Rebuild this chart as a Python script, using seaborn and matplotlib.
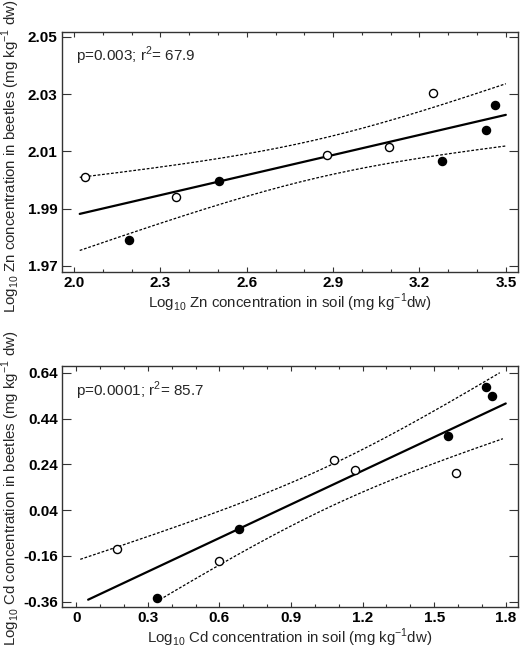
import numpy as np
import pandas as pd
import matplotlib
matplotlib.use("Agg")
import matplotlib.pyplot as plt
import seaborn as sns
from matplotlib.ticker import MultipleLocator

sns.set_style("ticks")
plt.rcParams['font.family'] = ['Liberation Sans', 'DejaVu Sans']
plt.rcParams['mathtext.fontset'] = 'custom'
plt.rcParams['mathtext.rm'] = 'Liberation Sans'

# Zn panel data
zn_soil_open = [2.038, 2.353, 2.880, 3.094, 3.248]
zn_beetle_open = [2.0012, 1.9941, 2.0089, 2.0116, 2.0304]
zn_soil_filled = [2.190, 2.503, 3.278, 3.431, 3.464]
zn_beetle_filled = [1.9790, 1.9998, 2.0066, 2.0176, 2.0261]
zn_xticks = [2.0, 2.3, 2.6, 2.9, 3.2, 3.5]
zn_yticks = [1.97, 1.99, 2.01, 2.03, 2.05]
zn_stats = "p=0.003; r$^2$= 67.9"

# Cd panel data
cd_soil_open = [0.169, 0.600, 1.081, 1.167, 1.592]
cd_beetle_open = [-0.131, -0.181, 0.259, 0.214, 0.202]
cd_soil_filled = [0.338, 0.681, 1.556, 1.719, 1.744]
cd_beetle_filled = [-0.345, -0.043, 0.365, 0.579, 0.538]
cd_xticks = [0, 0.3, 0.6, 0.9, 1.2, 1.5, 1.8]
cd_xticklabels = ["0", "0.3", "0.6", "0.9", "1.2", "1.5", "1.8"]
cd_yticks = [-0.36, -0.16, 0.04, 0.24, 0.44, 0.64]
cd_stats = "p=0.0001; r$^2$= 85.7"

T_CRIT = 2.306  # t(0.975, df=8)


def fit_bands(x, y, xs):
    x = np.asarray(x); y = np.asarray(y)
    b, a = np.polyfit(x, y, 1)
    n = len(x)
    resid = y - (a + b * x)
    s = np.sqrt(np.sum(resid ** 2) / (n - 2))
    sxx = np.sum((x - x.mean()) ** 2)
    fit = a + b * xs
    hw = T_CRIT * s * np.sqrt(1 / n + (xs - x.mean()) ** 2 / sxx)
    return fit, fit - hw, fit + hw


def panel(ax, xo, yo, xf, yf, line_range, band_range, lo_range, xlim, ylim,
          xticks, xticklabels, yticks, xlabel, ylabel, stats, ann_y, ylab_y):
    df = pd.DataFrame({
        "x": list(xo) + list(xf),
        "y": list(yo) + list(yf),
        "g": ["open"] * len(xo) + ["filled"] * len(xf),
    })
    xall = df["x"].values; yall = df["y"].values
    xs = np.linspace(*line_range, 200)
    fit, _, _ = fit_bands(xall, yall, xs)
    ax.plot(xs, fit, color="black", lw=1.6, zorder=2)
    xb = np.linspace(*band_range, 200)
    _, lo, hi = fit_bands(xall, yall, xb)
    ax.plot(xb, hi, color="black", lw=0.9, ls=(0, (2.2, 1.4)), zorder=2)
    xl = np.linspace(*lo_range, 200)
    _, lo2, _ = fit_bands(xall, yall, xl)
    ax.plot(xl, lo2, color="black", lw=0.9, ls=(0, (2.2, 1.4)), zorder=2)
    sns.scatterplot(data=df[df.g == "open"], x="x", y="y", ax=ax, marker="o",
                    s=34, facecolor="white", edgecolor="black", linewidth=1.0,
                    zorder=3, legend=False)
    sns.scatterplot(data=df[df.g == "filled"], x="x", y="y", ax=ax, marker="o",
                    s=34, color="black", edgecolor="black", linewidth=1.0,
                    zorder=3, legend=False)
    ax.set_xlim(*xlim)
    ax.set_ylim(*ylim)
    ax.set_xticks(xticks)
    ax.set_xticklabels(xticklabels, fontweight="bold", fontsize=11)
    ax.xaxis.set_minor_locator(MultipleLocator(0.1))
    ax.set_yticks(yticks)
    ax.set_yticklabels([f"{v:.2f}" for v in yticks], fontweight="bold", fontsize=11)
    ax.tick_params(axis="x", which="major", direction="in", length=3.5, width=0.8,
                   top=True, bottom=True, pad=3, colors="#333333", labelcolor="black")
    ax.tick_params(axis="x", which="minor", direction="in", length=2, width=0.8,
                   top=True, bottom=True, colors="#333333")
    ax.tick_params(axis="y", which="major", direction="in", length=6.5, width=0.8,
                   left=True, right=True, pad=3, colors="#333333", labelcolor="black")
    for sp in ax.spines.values():
        sp.set_visible(True)
        sp.set_color("#333333")
        sp.set_linewidth(1.0)
    ax.set_xlabel(xlabel, fontsize=10.8, labelpad=1)
    ax.set_ylabel(ylabel, fontsize=10.8)
    ax.yaxis.set_label_coords(-0.088, ylab_y)
    ax.text(0.031, ann_y, stats, transform=ax.transAxes, fontsize=11,
            ha="left", va="center")


fig = plt.figure(figsize=(5.2, 6.48), dpi=100)
ax1 = fig.add_axes([0.119, 0.580, 0.877, 0.370])
ax2 = fig.add_axes([0.119, 0.063, 0.877, 0.372])

panel(ax1, zn_soil_open, zn_beetle_open, zn_soil_filled, zn_beetle_filled,
      (2.02, 3.5), (2.02, 3.5), (2.02, 3.5), (1.958, 3.542), (1.9678, 2.0516),
      zn_xticks, [f"{v:.1f}" for v in zn_xticks], zn_yticks,
      "Log$_{10}$ Zn concentration in soil (mg kg$^{-1}$dw)",
      "Log$_{10}$ Zn concentration in beetles (mg kg$^{-1}$ dw)",
      zn_stats, 0.904, 0.485)

panel(ax2, cd_soil_open, cd_beetle_open, cd_soil_filled, cd_beetle_filled,
      (0.05, 1.8), (0.017, 1.775), (0.35, 1.788), (-0.06, 1.851), (-0.384, 0.669),
      cd_xticks, cd_xticklabels, cd_yticks,
      "Log$_{10}$ Cd concentration in soil (mg kg$^{-1}$dw)",
      "Log$_{10}$ Cd concentration in beetles (mg kg$^{-1}$ dw)",
      cd_stats, 0.896, 0.495)

fig.savefig("out.png", dpi=100)
